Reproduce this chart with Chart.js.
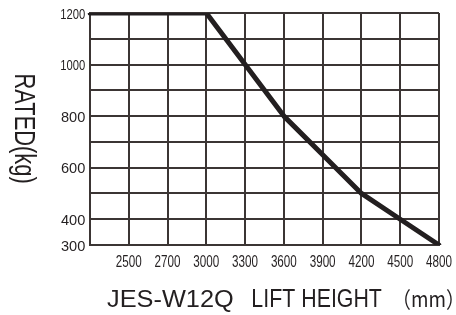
<!DOCTYPE html>
<html>
<head>
<meta charset="utf-8">
<script src="https://cdn.jsdelivr.net/npm/chart.js@4"></script>
<style>
  html, body { margin: 0; padding: 0; background: #fff; }
  #wrap { width: 456px; height: 315px; }
</style>
</head>
<body>
<div id="wrap"><canvas id="loadChart"></canvas></div>
<script>
// lift height (mm) - first slot is the unlabeled start of the axis
const liftHeights = ['', '2500', '2700', '3000', '3300', '3600', '3900', '4200', '4500', '4800'];
// rated load (kg)
const ratedLoad = [1200, 1200, 1200, 1200, 1000, 800, 650, 500, 400, 300];
const yTickLabels = [1200, 1000, 800, 600, 400, 300];

const ink = '#231f20';
const gridInk = '#3b3534';
const sans = '"Liberation Sans", Arial, sans-serif';

// draw text scaled sideways so its ink fits a given width.
// align: 'left' -> x is ink left, 'right' -> ink right, 'center' -> ink centre
function fitInk(ctx, text, x, y, width, font, align) {
    ctx.save();
    ctx.font = font;
    ctx.textAlign = 'left';
    ctx.textBaseline = 'alphabetic';
    const m = ctx.measureText(text);
    const inkW = m.actualBoundingBoxLeft + m.actualBoundingBoxRight;
    const k = width / inkW;
    let left = x;
    if (align === 'right') left = x - width;
    if (align === 'center') left = x - width / 2;
    ctx.translate(left, y);
    ctx.scale(k, 1);
    ctx.fillText(text, m.actualBoundingBoxLeft, 0);
    ctx.restore();
}

// tick labels + axis titles, narrow like the original print
const labelsAndTitles = {
    id: 'labelsAndTitles',
    afterDraw(chart) {
        const ctx = chart.ctx;
        const xs = chart.scales.x;
        const ys = chart.scales.y;
        ctx.save();
        ctx.fillStyle = ink;

        yTickLabels.forEach(v => {
            const py = ys.getPixelForValue(v);
            fitInk(ctx, String(v), 85, py + 5.5, 24, '15px ' + sans, 'right');
        });

        liftHeights.forEach((lab, i) => {
            if (!lab) return;
            const px = xs.getPixelForValue(i);
            fitInk(ctx, lab, px, 266.5, 26, '16px ' + sans, 'center');
        });

        // bottom title
        fitInk(ctx, 'JES-W12Q', 107, 307, 126, '24px ' + sans, 'left');
        fitInk(ctx, 'LIFT HEIGHT', 253, 307, 129, '26px ' + sans, 'left');
        fitInk(ctx, '（mm）', 405, 307, 47, '22px "Noto Sans CJK SC", ' + sans, 'left');

        // side title, reads top to bottom
        ctx.translate(15, 75);
        ctx.rotate(Math.PI / 2);
        fitInk(ctx, 'RATED(kg)', 0, 0, 108, '30px ' + sans, 'left');
        ctx.restore();
    }
};

const ctx = document.getElementById('loadChart').getContext('2d');

new Chart(ctx, {
    type: 'line',
    data: {
        labels: liftHeights,
        datasets: [{
            data: ratedLoad,
            borderColor: ink,
            borderWidth: 5,
            borderJoinStyle: 'round',
            borderCapStyle: 'round',
            pointRadius: 0,
            tension: 0,
            fill: false
        }]
    },
    options: {
        responsive: true,
        maintainAspectRatio: false,
        animation: false,
        events: [],
        layout: {
            padding: { left: 0, right: 17, top: 13, bottom: 0 }
        },
        plugins: {
            legend: { display: false },
            tooltip: { enabled: false }
        },
        scales: {
            x: {
                type: 'category',
                offset: false,
                afterFit: function (scale) {
                    scale.height = 70;
                    scale.paddingLeft = 0;
                    scale.paddingRight = 0;
                },
                grid: { color: gridInk, lineWidth: 2, drawTicks: false },
                border: { display: true, color: gridInk, width: 2 },
                ticks: { display: false, autoSkip: false }
            },
            y: {
                min: 300,
                max: 1200,
                afterFit: function (scale) {
                    scale.width = 90;
                    scale.paddingTop = 0;
                    scale.paddingBottom = 0;
                },
                grid: { color: gridInk, lineWidth: 2, drawTicks: false },
                border: { display: true, color: gridInk, width: 2 },
                ticks: { display: false, stepSize: 100 }
            }
        }
    },
    plugins: [labelsAndTitles]
});
</script>
</body>
</html>
